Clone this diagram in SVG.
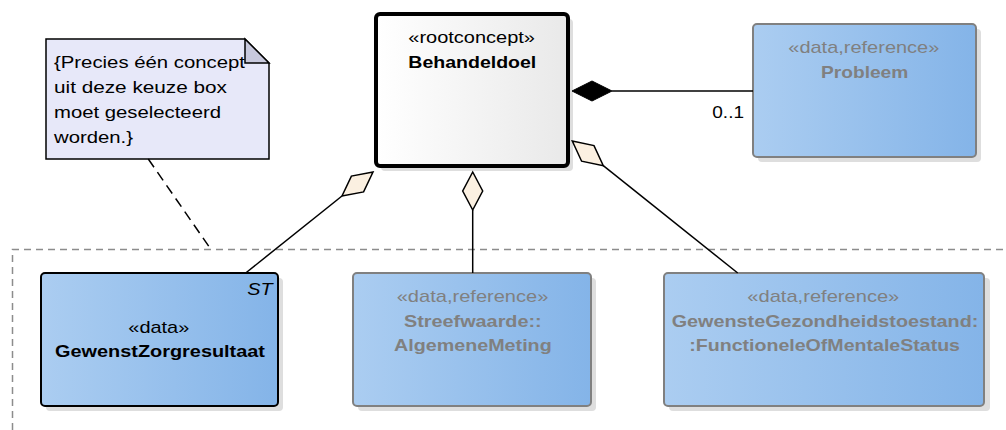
<svg xmlns="http://www.w3.org/2000/svg" width="1006" height="430" viewBox="0 0 1006 430">
<defs>
<linearGradient id="blue" x1="0" y1="0" x2="1" y2="0">
<stop offset="0" stop-color="#abcdf1"/>
<stop offset="1" stop-color="#84b4e8"/>
</linearGradient>
<linearGradient id="white" x1="0" y1="0" x2="1" y2="0">
<stop offset="0" stop-color="#ffffff"/>
<stop offset="1" stop-color="#e9e9e9"/>
</linearGradient>
<style>
text{font-family:"Liberation Sans",Arial,sans-serif;font-size:17px;}
.b{font-weight:bold;}
.g{fill:#808080;}
.shadow{fill:#dedede;}
.ref{fill:url(#blue);stroke:#808080;stroke-width:2;}
.line{stroke:#000;stroke-width:1.5;fill:none;}
.agg{fill:#fbf0e1;stroke:#000;stroke-width:1.5;}
</style>
</defs>
<path d="M12.5,430 V249.5 H1006" fill="none" stroke="#8c8c8c" stroke-width="1.5" stroke-dasharray="7,5"/>
<g id="note">
<polygon points="46,39 245,39 269,63 269,159 46,159" fill="#e7e8f9" stroke="#000" stroke-width="1.5"/>
<polygon points="245,39 245,63 269,63" fill="#c8c9dd" stroke="#000" stroke-width="1.5"/>
<text x="54" y="67.5" textLength="191" lengthAdjust="spacingAndGlyphs">{Precies één concept</text>
<text x="54" y="92.5" textLength="173" lengthAdjust="spacingAndGlyphs">uit deze keuze box</text>
<text x="54" y="117.5" textLength="167" lengthAdjust="spacingAndGlyphs">moet geselecteerd</text>
<text x="54" y="142.5" textLength="79" lengthAdjust="spacingAndGlyphs">worden.}</text>
</g>
<g id="behandeldoel">
<rect x="381" y="19" width="192" height="152" rx="4" class="shadow"/>
<rect x="376" y="14" width="192" height="152" rx="4" fill="url(#white)" stroke="#000" stroke-width="4"/>
<text x="408.3" y="43" textLength="126.7" lengthAdjust="spacingAndGlyphs">«rootconcept»</text>
<text x="408.3" y="67.7" class="b" textLength="128" lengthAdjust="spacingAndGlyphs">Behandeldoel</text>
</g>
<g id="probleem">
<rect x="758" y="29" width="223" height="133" rx="4" class="shadow"/>
<rect x="753" y="24" width="223" height="133" rx="4" class="ref"/>
<text x="788.3" y="53.3" class="g" textLength="151" lengthAdjust="spacingAndGlyphs">«data,reference»</text>
<text x="821" y="77.7" class="g b" textLength="87.3" lengthAdjust="spacingAndGlyphs">Probleem</text>
</g>
<g id="gewenstzorgresultaat">
<rect x="46" y="278" width="237" height="133" rx="4" class="shadow"/>
<rect x="41" y="273" width="237" height="133" rx="4" fill="url(#blue)" stroke="#000" stroke-width="2"/>
<text x="247.3" y="295" font-style="italic" textLength="25.3" lengthAdjust="spacingAndGlyphs">ST</text>
<text x="128.3" y="332.7" textLength="61" lengthAdjust="spacingAndGlyphs">«data»</text>
<text x="55" y="357.3" class="b" textLength="210" lengthAdjust="spacingAndGlyphs">GewenstZorgresultaat</text>
</g>
<g id="streefwaarde">
<rect x="358" y="278" width="238" height="133" rx="4" class="shadow"/>
<rect x="353" y="273" width="238" height="133" rx="4" class="ref"/>
<text x="396.7" y="301.7" class="g" textLength="151.7" lengthAdjust="spacingAndGlyphs">«data,reference»</text>
<text x="404" y="326.7" class="g b" textLength="137.7" lengthAdjust="spacingAndGlyphs">Streefwaarde::</text>
<text x="394" y="351" class="g b" textLength="157.7" lengthAdjust="spacingAndGlyphs">AlgemeneMeting</text>
</g>
<g id="gewenstegezondheidstoestand">
<rect x="669" y="278" width="321" height="133" rx="4" class="shadow"/>
<rect x="664" y="273" width="320" height="133" rx="4" class="ref"/>
<text x="747.3" y="301.7" class="g" textLength="152" lengthAdjust="spacingAndGlyphs">«data,reference»</text>
<text x="671.7" y="326.7" class="g b" textLength="306.7" lengthAdjust="spacingAndGlyphs">GewensteGezondheidstoestand:</text>
<text x="689.3" y="351" class="g b" textLength="270.7" lengthAdjust="spacingAndGlyphs">:FunctioneleOfMentaleStatus</text>
</g>
<g id="connectors">
<line x1="612" y1="91" x2="753" y2="91" class="line"/>
<polygon points="572,91 592,81 612,91 592,101" fill="#000" stroke="#000" stroke-width="1"/>
<text x="712.3" y="118.3" textLength="31.7" lengthAdjust="spacingAndGlyphs">0..1</text>
<line x1="342" y1="196" x2="245.7" y2="273" class="line"/>
<polygon points="373,172 351.4,176.1 342,196 363.6,191.9" class="agg"/>
<line x1="472.7" y1="210" x2="472.7" y2="273" class="line"/>
<polygon points="472.7,172 482.7,191 472.7,210 462.7,191" class="agg"/>
<line x1="603.3" y1="165.7" x2="737.7" y2="273" class="line"/>
<polygon points="572.3,141 594,145.6 603.3,165.7 581.6,161.2" class="agg"/>
<line x1="148.3" y1="159" x2="211" y2="249.5" stroke="#000" stroke-width="1.5" stroke-dasharray="10,6"/>
</g>
</svg>
